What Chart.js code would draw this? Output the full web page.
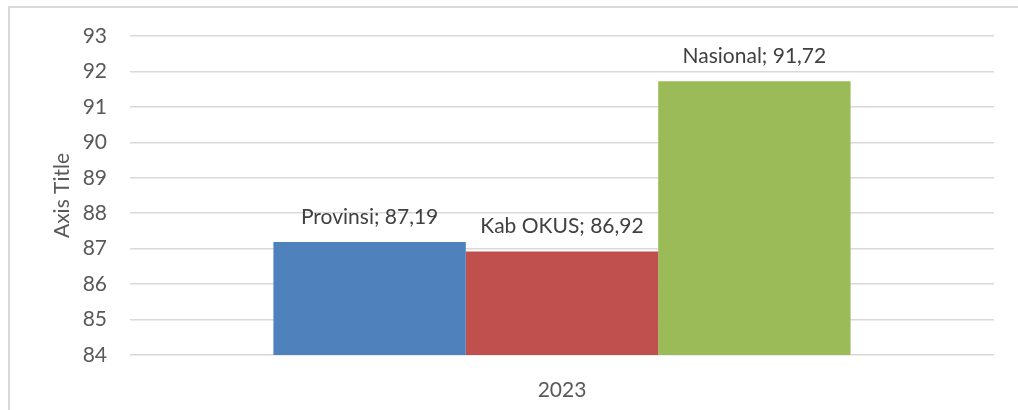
<!DOCTYPE html>
<html>
<head>
<meta charset="utf-8">
<script src="https://cdn.jsdelivr.net/npm/chart.js@4/dist/chart.umd.min.js"></script>
<style>
  html, body { margin: 0; padding: 0; background: #fff; }
  #wrap { width: 1018px; height: 410px; position: relative; }
</style>
</head>
<body>
<div id="wrap"><canvas id="capaianChart" width="1018" height="410"></canvas></div>
<script>
// Capaian 2023 per wilayah
const years = ['2023'];
const seriesNames = ['Provinsi', 'Kab OKUS', 'Nasional'];
const seriesValues = [[87.19], [86.92], [91.72]];
const seriesColors = ['#4F81BD', '#C0504D', '#9BBB59'];
const yTicks = [84, 85, 86, 87, 88, 89, 90, 91, 92, 93];

const FONT = "Lato, 'Open Sans', sans-serif";
const FSIZE = 21;

// outer frame of the chart box
const framePlugin = {
    id: 'frame',
    beforeDraw(chart) {
        const c = chart.ctx;
        c.save();
        c.fillStyle = '#fff';
        c.fillRect(0, 0, chart.width, chart.height);
        c.strokeStyle = '#D9D9D9';
        c.lineWidth = 2;
        c.strokeRect(9, 7, 1200, 600);
        c.restore();
    }
};

// "Name; value" labels above each bar, decimal comma
const barLabelPlugin = {
    id: 'barLabels',
    afterDatasetsDraw(chart) {
        const c = chart.ctx;
        c.save();
        c.font = FSIZE + 'px ' + FONT;
        c.fillStyle = '#404040';
        c.textAlign = 'center';
        c.textBaseline = 'middle';
        chart.data.datasets.forEach((ds, i) => {
            chart.getDatasetMeta(i).data.forEach((bar, j) => {
                const v = ds.data[j].toFixed(2).replace('.', ',');
                c.fillText(ds.label + '; ' + v, bar.x, bar.y - 25);
            });
        });
        c.restore();
    }
};

new Chart(document.getElementById('capaianChart'), {
    type: 'bar',
    data: {
        labels: years,
        datasets: seriesNames.map((name, i) => ({
            label: name,
            data: seriesValues[i],
            backgroundColor: seriesColors[i],
            categoryPercentage: 0.668,
            barPercentage: 1
        }))
    },
    options: {
        responsive: false,
        animation: false,
        events: [],
        layout: { padding: { top: 36, left: 50, right: 24, bottom: 0 } },
        plugins: { legend: { display: false }, tooltip: { enabled: false } },
        scales: {
            x: {
                grid: { display: false },
                border: { display: false },
                ticks: { color: '#595959', font: { family: FONT, size: FSIZE }, padding: 15 },
                afterFit(scale) { scale.height = 55; }
            },
            y: {
                min: yTicks[0],
                max: yTicks[yTicks.length - 1],
                afterBuildTicks(scale) { scale.ticks = yTicks.map(v => ({ value: v })); },
                grid: { color: '#D9D9D9', lineWidth: 1.5, drawTicks: false },
                border: { display: false },
                ticks: { color: '#595959', font: { family: FONT, size: FSIZE }, padding: 23 },
                title: {
                    display: true,
                    text: 'Axis Title',
                    color: '#595959',
                    font: { family: FONT, size: FSIZE },
                    padding: 0
                },
                afterFit(scale) { scale.width = 80; }
            }
        }
    },
    plugins: [framePlugin, barLabelPlugin]
});
</script>
</body>
</html>
